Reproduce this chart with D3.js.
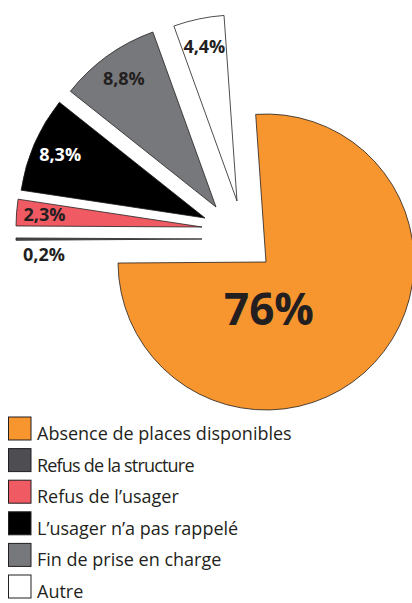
<!DOCTYPE html>
<html>
<head>
<meta charset="utf-8">
<script src="https://cdnjs.cloudflare.com/ajax/libs/d3/7.8.5/d3.min.js"></script>
<style>
  body { margin: 0; background: #fff; }
  text { font-family: "Open Sans", sans-serif; }
</style>
</head>
<body>
<script>
// data
const categories = [
  "Absence de places disponibles",
  "Refus de la structure",
  "Refus de l’usager",
  "L’usager n’a pas rappelé",
  "Fin de prise en charge",
  "Autre"
];
const values = [76, 0.2, 2.3, 8.3, 8.8, 4.4];
const valueLabels = ["76%", "0,2%", "2,3%", "8,3%", "8,8%", "4,4%"];

// styles
const colors = ["#f7952f", "#4d4d52", "#f05a63", "#000000", "#77787b", "#ffffff"];
const labelColors = ["#231f20", "#231f20", "#231f20", "#ffffff", "#231f20", "#231f20"];

// layout: how far each slice is pulled out of the pie
const shift = [[0, 0], [-64, -23], [-64, -35], [-61, -44], [-50, -55], [-29, -61]];

var w = 412;
var h = 603;
var cx = 266, cy = 262;
var rMain = 148, rOut = 186;
var deg = Math.PI / 180;

var svg = d3.select("body")
  .append("svg")
  .attr("width", w)
  .attr("height", h);

var pie = d3.pie()
  .sort(null)
  .value(d => d)
  .startAngle(-4 * deg)
  .endAngle(356 * deg);

var arc = d3.arc().innerRadius(0);

var slices = svg.selectAll("g.slice")
  .data(pie(values))
  .enter()
  .append("g")
  .attr("class", "slice")
  .attr("transform", (d, i) => `translate(${cx + shift[i][0]},${cy + shift[i][1]})`);

slices.append("path")
  .attr("d", (d, i) => arc.outerRadius(i === 0 ? rMain : rOut)(d))
  .attr("fill", (d, i) => colors[i])
  .attr("stroke", "#231f20")
  .attr("stroke-width", 0.8)
  .attr("stroke-linejoin", "miter");

// value labels
slices.append("text")
  .text((d, i) => valueLabels[i])
  .attr("text-anchor", "middle")
  .attr("font-weight", "bold")
  .attr("fill", (d, i) => labelColors[i])
  .attr("font-size", (d, i) => i === 0 ? 44 : 18)
  .attr("x", (d, i) => {
    if (i === 0) return 3;
    var a = (d.startAngle + d.endAngle) / 2;
    return 158 * Math.sin(a);
  })
  .attr("y", (d, i) => {
    if (i === 0) return 63;
    var a = (d.startAngle + d.endAngle) / 2;
    var y = -158 * Math.cos(a);
    if (d.value < 1) y += 15; // too thin, put it under
    return y + 6.5;
  });

// legend
var rowH = 31.6;
var legend = svg.selectAll("g.legend")
  .data(categories)
  .enter()
  .append("g")
  .attr("class", "legend")
  .attr("transform", (d, i) => `translate(0,${416.5 + i * rowH})`);

legend.append("rect")
  .attr("x", 8.5)
  .attr("y", 0.5)
  .attr("width", 22.5)
  .attr("height", 23)
  .attr("fill", (d, i) => colors[i])
  .attr("stroke", "#231f20")
  .attr("stroke-width", 1);

legend.append("text")
  .text(d => d)
  .attr("x", 37)
  .attr("y", 23.5)
  .attr("font-size", 18)
  .attr("letter-spacing", (d, i) => i === 1 ? -0.8 : 0)
  .attr("fill", "#231f20");
</script>
</body>
</html>
